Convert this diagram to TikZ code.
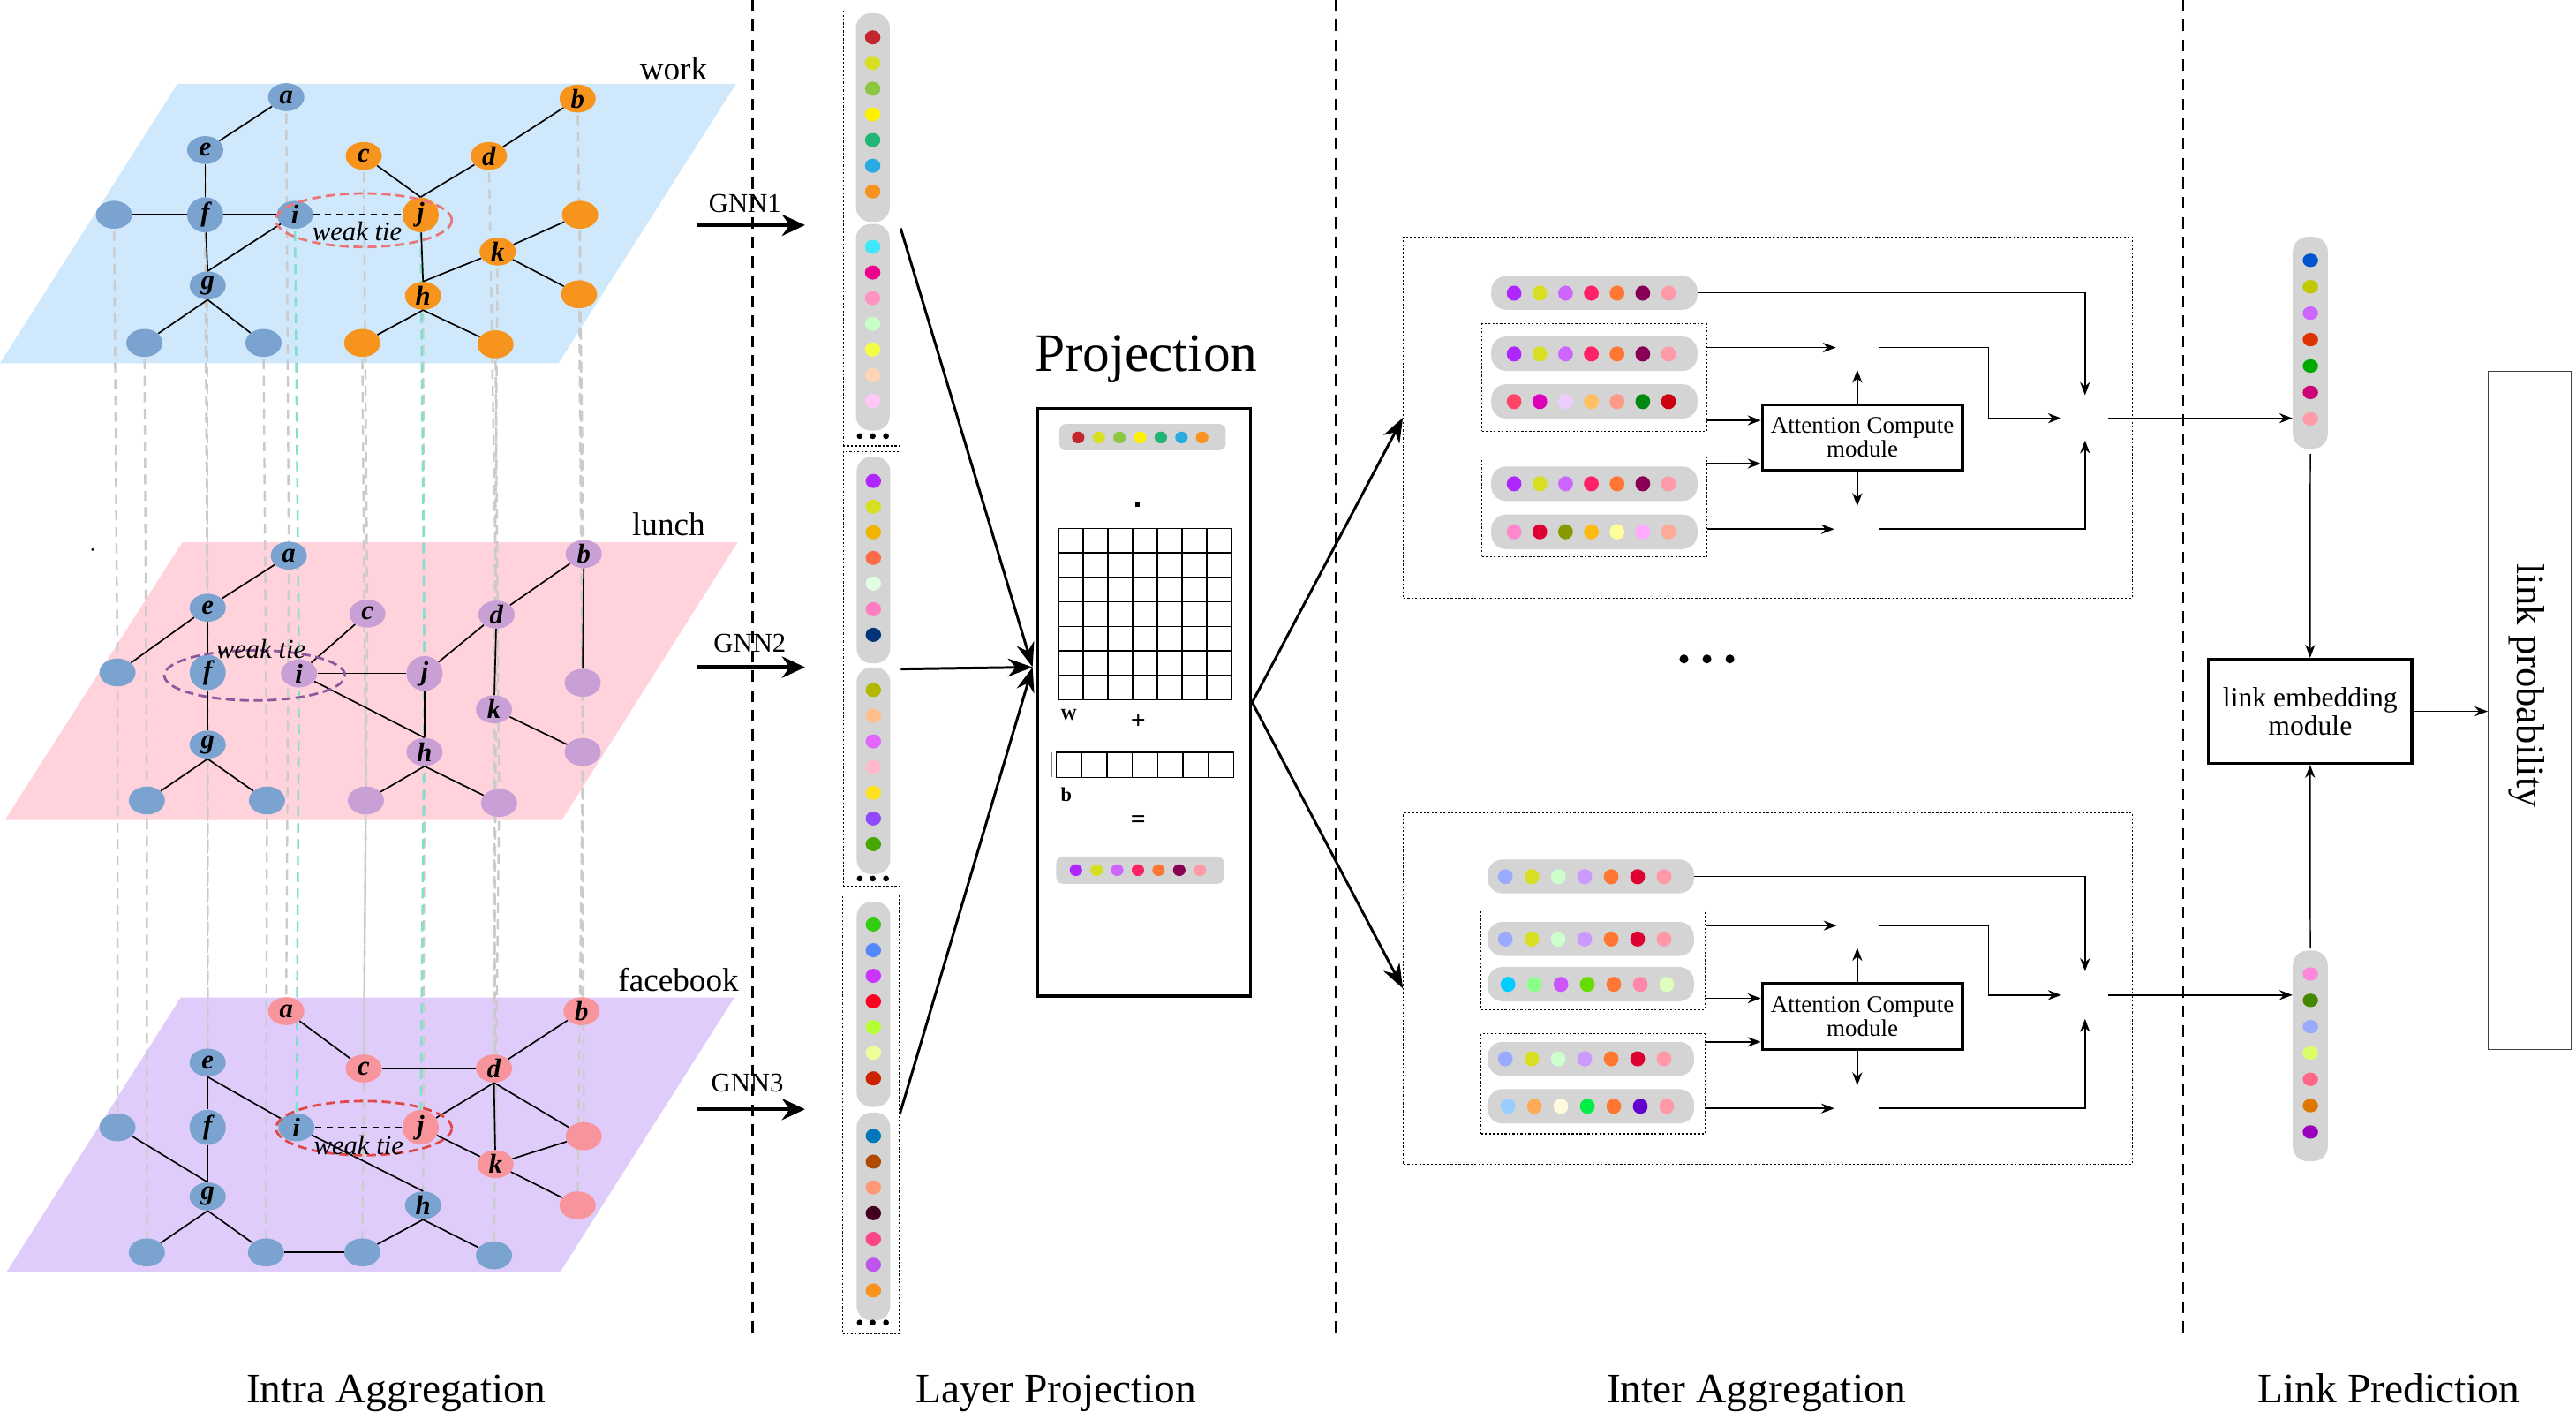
\documentclass[tikz,border=0pt]{standalone}
\usepackage{fontspec}
\setmainfont{Liberation Serif}
\usetikzlibrary{shapes.geometric,arrows.meta,calc}
\pgfdeclarelayer{bgl}
\pgfdeclarelayer{midl}
\pgfsetlayers{bgl,midl,main}
\definecolor{nblue}{HTML}{7AA3D0}
\definecolor{norange}{HTML}{F7941D}
\definecolor{npurple}{HTML}{C9A0D6}
\definecolor{npink}{HTML}{F8949C}
\definecolor{pwork}{HTML}{D0E8FC}
\definecolor{plunch}{HTML}{FFD2DC}
\definecolor{pfb}{HTML}{E0CCFA}
\definecolor{vgrey}{HTML}{CBCBCB}
\definecolor{vteal}{HTML}{7FE0CC}
\definecolor{pillg}{HTML}{D4D4D4}
\definecolor{tieR}{HTML}{E87878}
\definecolor{tieP}{HTML}{8A5A9E}
\definecolor{tieRR}{HTML}{E04848}
\newcommand\myfs[1]{\fontsize{#1}{#1}\selectfont}
\newcommand\mydotsH[6]{\foreach \cc [count=\nn from 0] in #6 {\definecolor{tmpc}{HTML}{\cc}\fill[tmpc] ({#1+\nn*#3},#2) ellipse [x radius=#4pt, y radius=#5pt];}}
\newcommand\mydotsV[6]{\foreach \cc [count=\nn from 0] in #6 {\definecolor{tmpc}{HTML}{\cc}\fill[tmpc] (#1,{#2+\nn*#3}) ellipse [x radius=#4pt, y radius=#5pt];}}
\def\colP{C1272D,D7DF23,8DC63F,FFF200,22B573,29ABE2,F7931E}
\def\colPb{3EE8F8,EC008C,FF93C4,C8FFC8,F2FF44,FFD5B8,FFC8F6}
\def\colPc{B026FF,D7DF23,F0B400,FF6B4A,E2FFE6,FF7DC0,003377}
\def\colPd{B2B800,FFBE8C,E066FF,FFB8CC,FFE01E,9048FF,46A800}
\def\colPe{33CC11,5588FF,CC33FF,FF0022,B4FF33,EEFF9A,CC2200}
\def\colPf{0077BB,B04A00,FF9977,440022,FF4488,C055EE,F7931E}
\def\colQ{B026FF,D7DF23,CC66FF,FF2266,FF7733,880055,FF9AA8}
\def\colUc{FF4466,DD00BB,EECCFF,FFC060,FF9988,008811,CC0011}
\def\colUe{FF88CC,DD0033,889900,FFBB11,FFFF99,FFAAFF,FFAA99}
\def\colD{99AAFF,D7DF23,CCFFCC,CC99FF,FF7733,DD0033,FF99A8}
\def\colDc{00CCFF,88FF88,CC55FF,66DD00,FF7733,FF88AA,DDFFBB}
\def\colDe{99CCFF,FFAA55,FFFADD,00EE44,FF7733,6600CC,FF99A8}
\def\colKt{0055CC,C0C800,CC66FF,DD3300,00AA00,CC0077,FF9AA8}
\def\colKb{FF88DD,448800,99AAFF,DDFF66,FF6688,DD7700,9900BB}
\begin{document}
\begin{tikzpicture}[x=1pt,y=-1pt,
 gnode/.style={ellipse,minimum width=22pt,minimum height=17pt,inner sep=0pt,font=\myfs{16.5}\bfseries\itshape},
 gedge/.style={line width=0.9pt},
 wedge/.style={line width=0.9pt,dash pattern=on 4pt off 3pt},
 vline/.style={vgrey,line width=1.3pt,dash pattern=on 6pt off 4pt},
 sepl/.style={line width=1.3pt,dash pattern=on 7pt off 5pt},
 dotbox/.style={draw,line width=0.7pt,dash pattern=on 1.2pt off 1.2pt,inner sep=0pt},
 pillnode/.style={fill=pillg,rounded corners=9pt,inner sep=0pt},
 bigarr/.style={line width=1.6pt,-{Stealth[length=15pt,width=11pt]}},
 gnnarr/.style={line width=2.3pt,-{Stealth[length=14pt,width=13pt]}},
 sarr/.style={line width=0.8pt,-{Stealth[length=8pt,width=6pt]}},
 modbox/.style={draw,line width=1.8pt,inner sep=0pt,align=center},
 tietext/.style={font=\myfs{16.5}\itshape,inner sep=0pt},
 lbl/.style={font=\myfs{20},inner sep=0pt},
 captxt/.style={font=\myfs{25.5},inner sep=0pt,anchor=base},
 gridl/.style={line width=0.8pt}
]
\useasboundingbox (0,0) rectangle (1568,858.7);

% ---------- planes ----------
\begin{pgfonlayer}{bgl}
\fill[pwork] (108,51) -- (448,51) -- (340,221) -- (0,221) -- cycle;
\fill[plunch] (111,330) -- (449,330) -- (342,499) -- (3,499) -- cycle;
\fill[pfb] (110,607) -- (447,607) -- (341,774) -- (4,774) -- cycle;
\end{pgfonlayer}
\fill (56.4,334.4) circle (0.9pt);

\node[lbl] (twork) at (410,42) {work};
\node[lbl] (tlunch) at (407,319) {lunch};
\node[lbl] (tfb) at (413,596) {facebook};

% ---------- graph nodes ----------
\foreach \id/\x/\y/\c/\t in {a/174.2/59.1/nblue/a, b/351.6/60.0/norange/b, c/221.4/94.9/norange/c, d/297.6/94.9/norange/d, e/124.9/91.3/nblue/e, f/124.9/130.7/nblue/f, g/126.4/173.7/nblue/g, h/257.5/180.0/norange/h, i/179.5/130.7/nblue/i, j/256.0/130.7/norange/j, k/302.9/153.1/norange/k, L/69.4/130.7/nblue/{}, R1/353.1/130.7/norange/{}, R2/352.5/179.1/norange/{}, B1/87.9/208.7/nblue/{}, B2/160.4/208.7/nblue/{}, B3/220.5/208.7/norange/{}, B4/301.6/209.5/norange/{}}
  {\node[gnode,fill=\c] (W\id) at (\x,\y) {\t};}
\foreach \id/\x/\y/\c/\t in {a/175.8/338.1/nblue/a, b/355.3/337.1/npurple/b, c/223.6/373.4/npurple/c, d/302.2/374.0/npurple/d, e/126.4/369.8/nblue/e, f/126.4/409.2/nblue/f, g/126.4/453.1/nblue/g, h/258.4/457.6/npurple/h, i/182.0/409.8/npurple/i, j/258.4/409.8/npurple/j, k/300.7/431.6/npurple/k, L/71.5/409.2/nblue/{}, R1/354.7/415.5/npurple/{}, R2/354.7/457.6/npurple/{}, B1/89.4/487.1/nblue/{}, B2/162.5/487.1/nblue/{}, B3/222.7/487.1/npurple/{}, B4/303.8/488.6/npurple/{}}
  {\node[gnode,fill=\c] (L\id) at (\x,\y) {\t};}
\foreach \id/\x/\y/\c/\t in {a/174.2/615.3/npink/a, b/354.0/615.3/npink/b, c/221.4/650.2/npink/c, d/300.7/650.2/npink/d, e/126.4/646.6/nblue/e, f/126.4/686.0/nblue/f, g/126.4/728.1/nblue/g, h/257.5/733.5/nblue/h, i/180.4/686.0/nblue/i, j/256.0/686.0/npink/j, k/301.6/708.4/npink/k, L/71.5/686.0/nblue/{}, R1/355.3/691.4/npink/{}, R2/351.6/733.5/npink/{}, B1/89.4/762.1/nblue/{}, B2/161.9/762.1/nblue/{}, B3/220.5/762.1/nblue/{}, B4/300.7/763.9/nblue/{}}
  {\node[gnode,fill=\c] (F\id) at (\x,\y) {\t};}

% ---------- vertical correspondence lines ----------
\begin{pgfonlayer}{midl}
\foreach \id in {a,b,c,d,e,f,g,h,k,L,R1,R2,B1,B2,B3,B4}
  {\draw[vline] (W\id.center) -- (L\id.center) -- (F\id.center);}
\foreach \id in {i,j}
  {\draw[vline,vteal] (W\id.center) -- (L\id.center) -- (F\id.center);}
\end{pgfonlayer}

% ---------- work edges ----------
\draw[gedge] (Wa) -- (We);
\draw[gedge] (Wb) -- (Wd);
\draw[gedge] (Wc) -- (Wj.north);
\draw[gedge] (Wd) -- (Wj.north);
\draw[gedge] (WL) -- (Wf);
\draw[gedge] (Wf) -- (Wi);
\draw[wedge] (Wi) -- (Wj);
\draw[gedge] (We) -- (Wf);
\draw[gedge] (Wf) -- (Wg.north);
\draw[gedge] (Wi) -- (Wg.north);
\draw[gedge] (Wj) -- (Wh.north);
\draw[gedge] (Wk) -- (Wh.north);
\draw[gedge] (Wk) -- (WR1);
\draw[gedge] (Wk) -- (WR2);
\draw[gedge] (Wg.south) -- (WB1);
\draw[gedge] (Wg.south) -- (WB2);
\draw[gedge] (Wh.south) -- (WB3);
\draw[gedge] (Wh.south) -- (WB4);
\draw[tieR,line width=1.5pt,dash pattern=on 5.5pt off 3pt] (221.5,134) ellipse [x radius=53.5pt, y radius=16.3pt];
\node[tietext] (Wtie) at (217.4,140.6) {weak tie};

% ---------- lunch edges ----------
\draw[gedge] (La) -- (Le);
\draw[gedge] (Le) -- (LL);
\draw[gedge] (Le) -- (Lf);
\draw[gedge] (Lc) -- (Li);
\draw[gedge] (Lb) -- (Ld);
\draw[gedge] (Lb.south) -- (LR1.north);
\draw[gedge] (Ld) -- (Lj);
\draw[gedge] (Ld) -- (Lk);
\draw[gedge] (Li) -- (Lj);
\draw[gedge] (Li) -- (Lh.north);
\draw[gedge] (Lj) -- (Lh.north);
\draw[gedge] (Lk) -- (LR2);
\draw[gedge] (Lf) -- (Lg);
\draw[gedge] (Lg.south) -- (LB1);
\draw[gedge] (Lg.south) -- (LB2);
\draw[gedge] (Lh.south) -- (LB3);
\draw[gedge] (Lh.south) -- (LB4);
\draw[tieP,line width=1.5pt,dash pattern=on 5.5pt off 3pt] (155,411) ellipse [x radius=55pt, y radius=15.3pt];
\node[tietext] (Ltie) at (158.8,394.9) {weak tie};

% ---------- facebook edges ----------
\draw[gedge] (Fa) -- (Fc);
\draw[gedge] (Fc) -- (Fd);
\draw[gedge] (Fb) -- (Fd);
\draw[gedge] (Fd.south) -- (Fj);
\draw[gedge] (Fd.south) -- (Fk);
\draw[gedge] (Fd.south) -- (FR1);
\draw[gedge] (Fj) -- (Fk);
\draw[gedge] (Fk) -- (FR1);
\draw[gedge] (Fk) -- (FR2);
\draw[gedge] (Fe.south) -- (Ff);
\draw[gedge] (Fe.south) -- (Fi);
\draw[wedge] (Fi) -- (Fj);
\draw[gedge] (Fi) -- (Fh.north);
\draw[gedge] (FL) -- (Fg.north);
\draw[gedge] (Ff) -- (Fg.north);
\draw[gedge] (Fg.south) -- (FB1);
\draw[gedge] (Fg.south) -- (FB2);
\draw[gedge] (FB2) -- (FB3);
\draw[gedge] (Fh.south) -- (FB3);
\draw[gedge] (Fh.south) -- (FB4);
\draw[tieRR,line width=1.5pt,dash pattern=on 5.5pt off 3pt] (221.5,686.5) ellipse [x radius=53.5pt, y radius=16.5pt];
\node[tietext] (Ftie) at (218.3,696.7) {weak tie};

% ---------- separators ----------
\coordinate (s1t) at (458,0); \coordinate (s1b) at (458,815);
\coordinate (s2t) at (813,0); \coordinate (s2b) at (813,815);
\coordinate (s3t) at (1329,0); \coordinate (s3b) at (1329,815);
\draw[sepl] (s1t) -- (s1b);
\draw[sepl] (s2t) -- (s2b);
\draw[sepl] (s3t) -- (s3b);

% ---------- GNN arrows ----------
\coordinate (g1s) at (424,137); \coordinate (g1e) at (490,137);
\coordinate (g2s) at (424,406); \coordinate (g2e) at (490,406);
\coordinate (g3s) at (424,675); \coordinate (g3e) at (490,675);
\draw[gnnarr] (g1s) -- (g1e);
\draw[gnnarr] (g2s) -- (g2e);
\draw[gnnarr] (g3s) -- (g3e);
\node[font=\myfs{16.5},inner sep=0pt] (gnn1) at (453.4,123.6) {GNN1};
\node[font=\myfs{16.5},inner sep=0pt] (gnn2) at (456.4,391.3) {GNN2};
\node[font=\myfs{16.5},inner sep=0pt] (gnn3) at (454.9,659.1) {GNN3};

% ---------- layer projection column ----------
\node[dotbox,minimum width=34.6pt,minimum height=264.6pt] (LP1) at (530.6,139) {};
\node[dotbox,minimum width=34.6pt,minimum height=264.6pt] (LP2) at (530.6,407.1) {};
\node[dotbox,minimum width=34.3pt,minimum height=266.8pt] (LP3) at (530.15,678.1) {};
\fill[pillg,rounded corners=9pt] (521,8) rectangle (541.6,135);
\fill[pillg,rounded corners=9pt] (521,136.3) rectangle (541.6,262);
\fill[pillg,rounded corners=9pt] (521.4,278) rectangle (541.9,403.6);
\fill[pillg,rounded corners=9pt] (521.4,406.2) rectangle (541.9,531.9);
\fill[pillg,rounded corners=9pt] (521.4,548.7) rectangle (541.9,673.6);
\fill[pillg,rounded corners=9pt] (521.4,677) rectangle (541.9,803.5);
\mydotsV{531.2}{22.7}{15.63}{4.7}{4.3}{\colP}
\mydotsV{531.2}{150.2}{15.63}{4.7}{4.3}{\colPb}
\mydotsV{531.6}{292.7}{15.6}{4.7}{4.3}{\colPc}
\mydotsV{531.6}{419.9}{15.63}{4.7}{4.3}{\colPd}
\mydotsV{531.6}{562.6}{15.6}{4.7}{4.3}{\colPe}
\mydotsV{531.6}{691.2}{15.68}{4.7}{4.3}{\colPf}
\foreach \yy in {265.4,534.6,804.8}
  {\foreach \xx in {523.3,531.2,539.3} {\fill (\xx,\yy) circle (1.8pt);}}

% ---------- projection box ----------
\node[font=\myfs{33},inner sep=0pt,anchor=base] (ptitle) at (697.6,225.9) {Projection};
\node[draw,line width=1.8pt,minimum width=129.9pt,minimum height=357.6pt,inner sep=0pt] (PB) at (696.35,427.4) {};
\fill[pillg,rounded corners=4pt] (644.8,258) rectangle (746.1,274);
\mydotsH{656.3}{266.2}{12.57}{3.8}{3.6}{\colP}
\fill (691,305.5) rectangle (693.8,308.3);
\foreach \i in {0,...,7} {\draw[gridl] ({644.4+\i*15.03},321.6) -- ({644.4+\i*15.03},425.8);}
\foreach \i in {0,...,7} {\draw[gridl] (644.4,{321.6+\i*14.886}) -- (749.6,{321.6+\i*14.886});}
\node[font=\myfs{10}\bfseries,inner sep=0pt] (tW) at (650.5,435.1) {W};
\node[font=\myfs{16}\bfseries,inner sep=0pt] (tplus) at (692.8,439.1) {+};
\foreach \i in {0,...,7} {\draw[gridl] ({642.9+\i*15.443},457.9) -- ({642.9+\i*15.443},473.1);}
\draw[gridl] (642.9,457.9) -- (751,457.9);
\draw[gridl] (642.9,473.1) -- (751,473.1);
\draw[gray,line width=1.3pt] (640,457.9) -- (640,473.1);
\node[font=\myfs{12}\bfseries,inner sep=0pt] (tb) at (649,483.8) {b};
\node[font=\myfs{16}\bfseries,inner sep=0pt] (teq) at (692.8,499.8) {=};
\fill[pillg,rounded corners=4pt] (642.9,521.2) rectangle (745,537.8);
\mydotsH{654.9}{529.5}{12.58}{3.8}{3.6}{\colQ}

\coordinate (pin) at (628.5,406);
\draw[bigarr] (LP1.east) -- (pin);
\draw[bigarr] (LP2.east) -- (pin);
\draw[bigarr] (LP3.east) -- (pin);

% ---------- inter aggregation: upper ----------
\node[dotbox,minimum width=443.5pt,minimum height=219.8pt] (UB) at (1076.05,254.1) {};
\node[dotbox,minimum width=136.7pt,minimum height=65.3pt] (UB1) at (970.45,229.75) {};
\node[dotbox,minimum width=136.7pt,minimum height=60.9pt] (UB2) at (970.45,308.45) {};
\node[pillnode,minimum width=125.5pt,minimum height=20.5pt] (UP1) at (970.45,178.25) {};
\fill[pillg,rounded corners=9pt] (907.7,204.8) rectangle (1033.2,225.7);
\fill[pillg,rounded corners=9pt] (907.7,233.8) rectangle (1033.2,254.7);
\fill[pillg,rounded corners=9pt] (907.7,283.9) rectangle (1033.2,304.9);
\fill[pillg,rounded corners=9pt] (907.7,313.1) rectangle (1033.2,334.1);
\mydotsH{921.6}{178.4}{15.67}{4.5}{4.6}{\colQ}
\mydotsH{921.6}{215.4}{15.67}{4.5}{4.6}{\colQ}
\mydotsH{921.6}{244.4}{15.67}{4.5}{4.6}{\colUc}
\mydotsH{921.6}{294.4}{15.67}{4.5}{4.6}{\colQ}
\mydotsH{921.6}{323.6}{15.67}{4.5}{4.6}{\colUe}
\node[modbox,minimum width=121.8pt,minimum height=40pt,font=\myfs{14.5}] (UA) at (1133.6,266.3) {\baselineskip=17pt Attention Compute\\module};
\coordinate (UJ1) at (1130.5,211.5);
\coordinate (UJ2) at (1130.5,322);
\coordinate (UJ3) at (1269.1,254.5);
\coordinate (Uin3) at (1038.8,255.8);
\coordinate (Uin4) at (1038.8,282.1);
\draw[sarr] (UP1.east) -| ($(UJ3)+(0,-14)$);
\draw[sarr] (UB1.east |- UJ1) -- ($(UJ1)+(-13,0)$);
\draw[sarr] (Uin3) -- (Uin3 -| UA.west);
\draw[sarr] (Uin4) -- (Uin4 -| UA.west);
\draw[sarr] (UB2.east |- UJ2) -- ($(UJ2)+(-14,0)$);
\draw[sarr] (UA.north -| UJ1) -- ($(UJ1)+(0,13.5)$);
\draw[sarr] (UA.south -| UJ2) -- ($(UJ2)+(0,-14)$);
\draw[sarr] ($(UJ1)+(13,0)$) -- ++(67,0) |- ($(UJ3)+(-14.5,0)$);
\draw[sarr] ($(UJ2)+(13,0)$) -| ($(UJ3)+(0,13.5)$);

% ---------- inter aggregation: lower ----------
\node[dotbox,minimum width=443.5pt,minimum height=213.7pt] (DB) at (1076.05,601.55) {};
\node[dotbox,minimum width=136.3pt,minimum height=60.5pt] (DB1) at (969.65,584.05) {};
\node[dotbox,minimum width=136.3pt,minimum height=60.9pt] (DB2) at (969.65,659.45) {};
\node[pillnode,minimum width=125.6pt,minimum height=20.6pt] (DP1) at (968.3,533.3) {};
\fill[pillg,rounded corners=9pt] (905.5,561) rectangle (1031.1,581.7);
\fill[pillg,rounded corners=9pt] (905.5,588.4) rectangle (1031.1,609.3);
\fill[pillg,rounded corners=9pt] (905.5,634) rectangle (1031.1,654.6);
\fill[pillg,rounded corners=9pt] (905.5,662.7) rectangle (1031.1,683.7);
\mydotsH{916.3}{533.5}{16.1}{4.5}{4.6}{\colD}
\mydotsH{916.3}{571.4}{16.1}{4.5}{4.6}{\colD}
\mydotsH{917.9}{599}{16.1}{4.5}{4.6}{\colDc}
\mydotsH{916.3}{644.3}{16.1}{4.5}{4.6}{\colD}
\mydotsH{917.9}{673.2}{16.1}{4.5}{4.6}{\colDe}
\node[modbox,minimum width=121.8pt,minimum height=39.9pt,font=\myfs{14.5}] (DA) at (1133.6,618.55) {\baselineskip=17pt Attention Compute\\module};
\coordinate (DJ1) at (1130.5,563.2);
\coordinate (DJ2) at (1130.5,674.5);
\coordinate (DJ3) at (1269.1,605.5);
\coordinate (Din3) at (1037.8,607.5);
\coordinate (Din4) at (1037.8,634);
\draw[sarr] (DP1.east) -| ($(DJ3)+(0,-14.5)$);
\draw[sarr] (DB1.east |- DJ1) -- ($(DJ1)+(-12.5,0)$);
\draw[sarr] (Din3) -- (Din3 -| DA.west);
\draw[sarr] (Din4) -- (Din4 -| DA.west);
\draw[sarr] (DB2.east |- DJ2) -- ($(DJ2)+(-14,0)$);
\draw[sarr] (DA.north -| DJ1) -- ($(DJ1)+(0,13.5)$);
\draw[sarr] (DA.south -| DJ2) -- ($(DJ2)+(0,-14)$);
\draw[sarr] ($(DJ1)+(13,0)$) -- ++(67,0) |- ($(DJ3)+(-14.5,0)$);
\draw[sarr] ($(DJ2)+(13,0)$) -| ($(DJ3)+(0,14.5)$);

\foreach \xx in {1025,1039,1053} {\fill (\xx,401) circle (2.7pt);}

\draw[bigarr] (PB.east) -- (UB.west);
\draw[bigarr] (PB.east) -- (DB.west);

% ---------- link prediction ----------
\node[pillnode,minimum width=21.3pt,minimum height=128.9pt] (KPt) at (1406.25,208.55) {};
\node[pillnode,minimum width=21.3pt,minimum height=128.2pt] (KPb) at (1406.25,642.5) {};
\mydotsV{1406.3}{158.4}{16.08}{4.7}{4.1}{\colKt}
\mydotsV{1406.3}{592.7}{16.02}{4.7}{4.1}{\colKb}
\node[modbox,minimum width=123.7pt,minimum height=63.3pt,font=\myfs{17}] (KEm) at (1406.15,432.85) {\baselineskip=20.5pt link embedding\\module};
\node[draw,line width=0.9pt,draw=black!75,minimum width=50.4pt,minimum height=412.8pt,inner sep=0pt] (KProb) at (1539.9,432.3) {};
\node[font=\myfs{24},rotate=-90,inner sep=0pt] (tprob) at (1538.1,417.4) {link probability};
\draw[sarr] ($(UJ3)+(14,0)$) -- (KPt.west |- UJ3);
\draw[sarr] ($(DJ3)+(14,0)$) -- (KPb.west |- DJ3);
\draw[sarr,shorten <=3pt] (KPt.south) -- (KEm.north);
\draw[sarr,shorten <=1pt] (KPb.north) -- (KEm.south);
\draw[sarr] (KEm.east) -- (KProb.west |- KEm.east);

% ---------- captions ----------
\node[captxt] (c1) at (241,853.5) {Intra Aggregation};
\node[captxt] (c2) at (643,853.5) {Layer Projection};
\node[captxt] (c3) at (1069,853.5) {Inter Aggregation};
\node[captxt] (c4) at (1454,853.5) {Link Prediction};
\end{tikzpicture}
\end{document}
